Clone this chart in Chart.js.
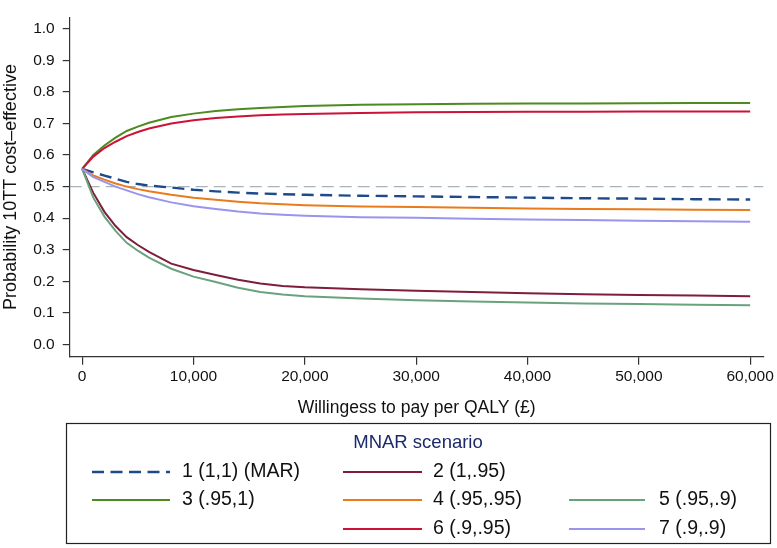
<!DOCTYPE html>
<html><head><meta charset="utf-8">
<script src="https://cdn.jsdelivr.net/npm/chart.js@4/dist/chart.umd.min.js"></script>
<style>html,body{margin:0;padding:0;background:#fff}#wrap{width:777px;height:548px}</style>
</head><body><div id="wrap"><canvas id="c" width="777" height="548" style="width:777px;height:548px"></canvas></div>
<script>
// ---- data ----
const wtp = [0,1000,2000,3000,4000,5000,6000,8000,10000,12000,14000,16000,18000,20000,25000,30000,35000,40000,45000,50000,55000,60000];
const s1_MAR    = [0.556,0.545,0.535,0.525,0.515,0.508,0.503,0.497,0.490,0.485,0.481,0.478,0.476,0.474,0.471,0.469,0.467,0.465,0.463,0.462,0.460,0.459];
const s2_1_95   = [0.556,0.480,0.420,0.375,0.340,0.315,0.293,0.256,0.236,0.220,0.205,0.193,0.185,0.181,0.175,0.170,0.166,0.162,0.159,0.157,0.155,0.153];
const s3_95_1   = [0.556,0.600,0.630,0.655,0.676,0.690,0.702,0.720,0.731,0.739,0.745,0.749,0.752,0.755,0.759,0.761,0.762,0.763,0.763,0.764,0.765,0.765];
const s4_95_95  = [0.556,0.535,0.522,0.510,0.500,0.492,0.485,0.474,0.465,0.458,0.452,0.447,0.444,0.441,0.437,0.435,0.433,0.431,0.429,0.428,0.427,0.426];
const s5_95_9   = [0.556,0.465,0.405,0.360,0.322,0.297,0.275,0.240,0.215,0.198,0.180,0.166,0.158,0.153,0.146,0.140,0.136,0.133,0.130,0.128,0.126,0.124];
const s6_9_95   = [0.556,0.595,0.622,0.642,0.660,0.673,0.684,0.700,0.710,0.717,0.722,0.726,0.728,0.730,0.733,0.735,0.736,0.737,0.737,0.738,0.738,0.738];
const s7_9_9    = [0.556,0.530,0.515,0.500,0.488,0.476,0.466,0.450,0.438,0.429,0.421,0.415,0.411,0.408,0.403,0.401,0.398,0.396,0.394,0.392,0.390,0.389];
const seriesLabels = ["1 (1,1) (MAR)","2 (1,.95)","3 (.95,1)","4 (.95,.95)","5 (.95,.9)","6 (.9,.95)","7 (.9,.9)"];
const refLine = 0.5;
const xTicks = [0,10000,20000,30000,40000,50000,60000];
const yTicks = [0,0.1,0.2,0.3,0.4,0.5,0.6,0.7,0.8,0.9,1.0];
const xTitle = "Willingess to pay per QALY (£)";
const yTitle = "Probability 10TT cost\u2013effective";
const legendTitle = "MNAR scenario";

// ---- styles ----
const FONT = "'Liberation Sans', Arial, Helvetica, sans-serif";
const colors = ["#1f4a8a","#7e1d3c","#4f8a1f","#ea7b1c","#6aa27e","#cc1237","#9a94ee"];
const widths = [2.4,2,2,2,2,2,2];
const dashes = [[12,6.5],[],[],[],[],[],[]];
const allSeries = [s1_MAR,s2_1_95,s3_95_1,s4_95_95,s5_95_9,s6_9_95,s7_9_9];
const X_MIN = -1120, X_MAX = 61200, Y_MIN = -0.0386, Y_MAX = 1.036;

const datasets = [{
  label: "ref", data: [{x:X_MIN,y:refLine},{x:X_MAX,y:refLine}],
  borderColor: "#a9b3ba", borderWidth: 1.2, borderDash: [12,6], pointRadius: 0, order: 10
}];
allSeries.forEach((arr,i)=>{
  datasets.push({
    label: seriesLabels[i],
    data: arr.map((v,k)=>({x:wtp[k], y:v})),
    borderColor: colors[i], borderWidth: widths[i], borderDash: dashes[i],
    pointRadius: 0, tension: 0, fill: false, order: 7-i
  });
});

const legendSlots = [[0,1,null],[2,3,4],[null,5,6]];
const legendPlugin = {
  id: "stataLegend",
  afterDraw(chart){
    const ctx = chart.ctx;
    ctx.save();
    const bx = 66, by = 423, bw = 704, bh = 120;
    ctx.strokeStyle = "#222"; ctx.lineWidth = 1.2;
    ctx.strokeRect(bx+0.5, by+0.5, bw, bh);
    ctx.fillStyle = "#1c2a6b";
    ctx.font = "18.5px " + FONT;
    ctx.textAlign = "center"; ctx.textBaseline = "middle";
    ctx.fillText(legendTitle, bx + bw/2, 443);
    const colLine = [[92,170],[343,422],[569,645]];
    const colText = [182,433,659];
    const rowY = [472,500,529];
    ctx.textAlign = "left";
    legendSlots.forEach((row,r)=>{
      row.forEach((idx,c)=>{
        if(idx===null) return;
        const y = rowY[r];
        ctx.beginPath();
        ctx.strokeStyle = colors[idx]; ctx.lineWidth = widths[idx];
        ctx.setLineDash(dashes[idx]);
        ctx.moveTo(colLine[c][0], y); ctx.lineTo(colLine[c][1], y);
        ctx.stroke();
        ctx.setLineDash([]);
        ctx.fillStyle = "#111";
        ctx.font = "19.5px " + FONT;
        ctx.fillText(seriesLabels[idx], colText[c], y);
      });
    });
    ctx.restore();
  }
};

new Chart(document.getElementById("c"), {
  type: "line",
  data: { datasets },
  plugins: [legendPlugin],
  options: {
    responsive: false, animation: false,
    layout: { padding: { top: 3, right: 7, bottom: 0, left: 0 } },
    plugins: { legend: { display: false }, tooltip: { enabled: false } },
    scales: {
      x: {
        type: "linear", min: X_MIN, max: X_MAX,
        afterBuildTicks: s => { s.ticks = xTicks.map(v=>({value:v})); },
        afterFit: s => { s.height = 548 - 356.7; },
        ticks: { font: { size: 15.5, family: FONT }, color: "#111", padding: 3, maxRotation: 0,
          callback: v => v.toLocaleString("en-US") },
        grid: { display: true, drawOnChartArea: false, drawTicks: true, tickLength: 8, color: "#333", lineWidth: 1.2 },
        border: { display: true, color: "#333", width: 1.2 },
        title: { display: true, text: xTitle, font: { size: 17.5, family: FONT }, color: "#111", padding: { top: 0, bottom: 129 } }
      },
      y: {
        type: "linear", min: Y_MIN, max: Y_MAX,
        afterBuildTicks: s => { s.ticks = yTicks.map(v=>({value:v})); },
        afterFit: s => { s.width = 69.7; },
        ticks: { font: { size: 15.5, family: FONT }, color: "#111", padding: 8,
          callback: v => v.toFixed(1) },
        grid: { display: true, drawOnChartArea: false, drawTicks: true, tickLength: 7, color: "#333", lineWidth: 1.2 },
        border: { display: true, color: "#333", width: 1.2 },
        title: { display: true, text: yTitle, font: { size: 18, family: FONT }, color: "#111", padding: { top: 0, bottom: 0 } }
      }
    }
  }
});
</script>
</body></html>
